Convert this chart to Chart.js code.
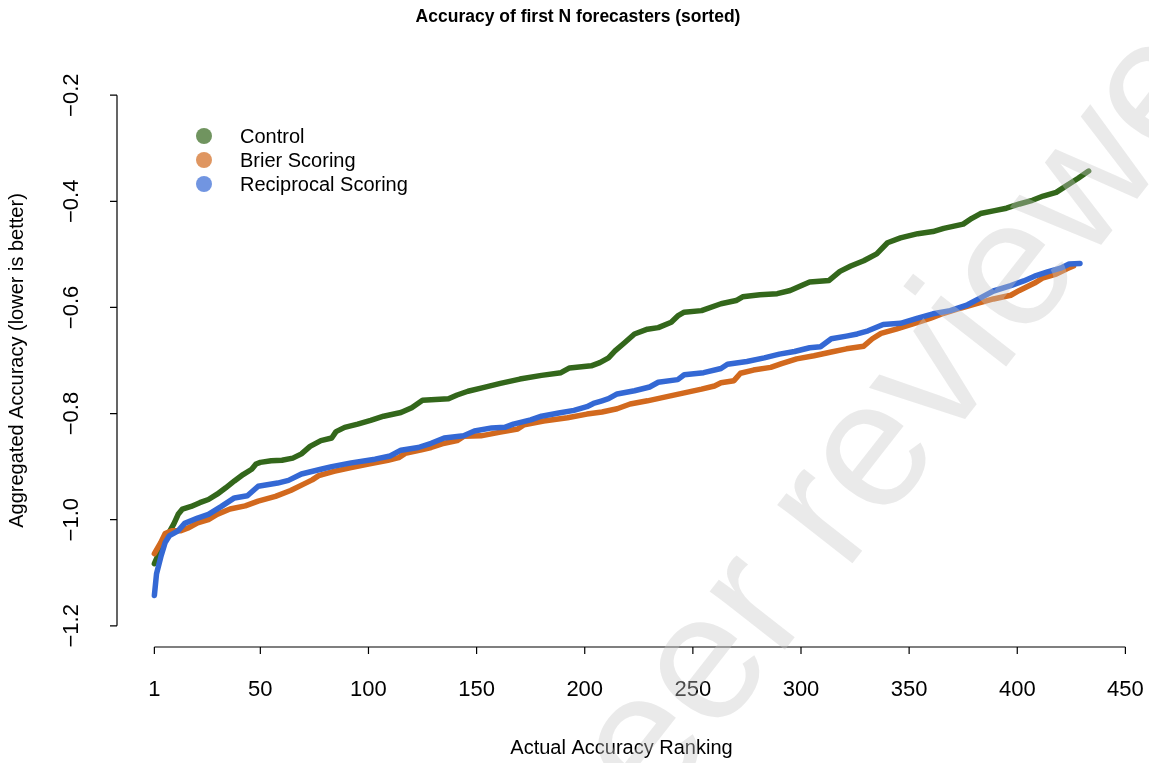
<!DOCTYPE html>
<html>
<head>
<meta charset="utf-8">
<title>Accuracy of first N forecasters (sorted)</title>
<script src="https://cdn.jsdelivr.net/npm/chart.js@4/dist/chart.umd.min.js"></script>
<style>
  html, body { margin: 0; padding: 0; background: #fff; }
  #grafico { display: block; }
</style>
</head>
<body>
<canvas id="grafico" width="1149" height="763"></canvas>
<script>
// Ranking positions and cumulative accuracy for each scoring group
const rankControl = [1, 4, 7, 10, 12, 14, 18, 22, 26, 30, 34, 38, 42, 46, 48, 50, 55, 60, 65, 69, 73, 78, 83, 85, 89, 95, 101, 107, 115, 120, 125, 137, 141, 146, 153, 161, 170, 180, 189, 193, 203, 207, 211, 214, 218, 223, 229, 234, 240, 243, 246, 254, 263, 270, 273, 281, 289, 295, 300, 304, 313, 318, 323, 329, 335, 340, 346, 354, 361, 366, 375, 379, 383, 389, 395, 401, 407, 412, 418, 423, 428, 433];
const accControl = [-1.083, -1.055, -1.030, -1.008, -0.990, -0.980, -0.975, -0.968, -0.962, -0.952, -0.940, -0.927, -0.915, -0.905, -0.895, -0.892, -0.889, -0.888, -0.884, -0.876, -0.862, -0.851, -0.846, -0.834, -0.826, -0.820, -0.813, -0.805, -0.798, -0.789, -0.775, -0.772, -0.765, -0.758, -0.751, -0.743, -0.735, -0.728, -0.723, -0.714, -0.710, -0.704, -0.695, -0.682, -0.668, -0.650, -0.641, -0.638, -0.628, -0.616, -0.609, -0.606, -0.593, -0.587, -0.580, -0.576, -0.574, -0.568, -0.559, -0.552, -0.549, -0.532, -0.522, -0.512, -0.499, -0.478, -0.469, -0.461, -0.457, -0.451, -0.443, -0.432, -0.423, -0.418, -0.413, -0.405, -0.398, -0.390, -0.383, -0.370, -0.357, -0.343];

const rankBrier = [1, 4, 6, 9, 13, 17, 21, 26, 30, 36, 43, 49, 57, 64, 70, 74, 77, 84, 92, 100, 109, 114, 117, 124, 129, 134, 141, 144, 152, 161, 169, 172, 181, 192, 201, 208, 215, 221, 229, 238, 246, 254, 260, 263, 269, 272, 278, 286, 291, 298, 306, 314, 321, 329, 333, 337, 344, 354, 360, 366, 374, 382, 389, 397, 401, 408, 412, 418, 423, 426];
const accBrier = [-1.064, -1.043, -1.026, -1.021, -1.021, -1.015, -1.006, -1.000, -0.990, -0.980, -0.974, -0.965, -0.956, -0.945, -0.933, -0.925, -0.917, -0.909, -0.902, -0.895, -0.888, -0.883, -0.875, -0.869, -0.864, -0.857, -0.851, -0.843, -0.842, -0.835, -0.829, -0.821, -0.814, -0.808, -0.801, -0.797, -0.791, -0.782, -0.776, -0.768, -0.761, -0.754, -0.748, -0.742, -0.738, -0.724, -0.718, -0.713, -0.706, -0.697, -0.691, -0.684, -0.678, -0.673, -0.659, -0.649, -0.641, -0.628, -0.620, -0.611, -0.601, -0.592, -0.584, -0.577, -0.568, -0.554, -0.544, -0.537, -0.527, -0.522];

const rankRecip = [1, 2, 4, 6, 8, 12, 15, 21, 26, 32, 38, 44, 49, 58, 63, 69, 78, 83, 92, 103, 110, 115, 123, 129, 135, 144, 149, 157, 163, 167, 175, 180, 188, 195, 201, 204, 208, 211, 215, 223, 230, 234, 243, 246, 255, 263, 266, 275, 283, 290, 297, 304, 309, 314, 321, 326, 331, 338, 346, 354, 361, 369, 377, 383, 389, 397, 403, 408, 414, 420, 424, 429];
const accRecip = [-1.143, -1.102, -1.070, -1.043, -1.030, -1.021, -1.007, -0.997, -0.990, -0.975, -0.959, -0.955, -0.937, -0.931, -0.926, -0.914, -0.905, -0.900, -0.893, -0.886, -0.880, -0.869, -0.864, -0.856, -0.846, -0.842, -0.833, -0.827, -0.826, -0.820, -0.812, -0.805, -0.799, -0.794, -0.787, -0.781, -0.776, -0.772, -0.763, -0.757, -0.750, -0.741, -0.736, -0.727, -0.723, -0.715, -0.707, -0.702, -0.695, -0.688, -0.683, -0.676, -0.674, -0.659, -0.654, -0.650, -0.644, -0.632, -0.630, -0.620, -0.612, -0.606, -0.595, -0.582, -0.569, -0.559, -0.550, -0.541, -0.533, -0.526, -0.518, -0.517];

const seriesNames = ["Control", "Brier Scoring", "Reciprocal Scoring"];
const xTicks = [1, 50, 100, 150, 200, 250, 300, 350, 400, 450];
const yTicks = [-1.2, -1.0, -0.8, -0.6, -0.4, -0.2];
const yTickLabels = ["\u22121.2", "\u22121.0", "\u22120.8", "\u22120.6", "\u22120.4", "\u22120.2"];

const lineColors = ["rgb(51,103,27)", "rgb(210,105,30)", "rgb(52,104,212)"];
const dotColors = ["rgba(51,103,27,0.7)", "rgba(210,105,30,0.7)", "rgba(52,104,212,0.7)"];

const FONT = "'Liberation Sans', Arial, Helvetica, sans-serif";

function puntos(xs, ys) {
    return xs.map(function(x, i) { return { x: x, y: ys[i] }; });
}

// Axes, legend, title and watermark drawn in base-graphics style
const estiloR = {
    id: "estiloR",
    afterDraw(chart) {
        const ctx = chart.ctx;
        const xs = chart.scales.x;
        const ys = chart.scales.y;
        const area = chart.chartArea;

        ctx.save();
        ctx.strokeStyle = "#000";
        ctx.fillStyle = "#000";
        ctx.lineWidth = 1.2;

        // x axis: line spans first to last tick
        const xb = area.bottom;
        ctx.beginPath();
        ctx.moveTo(xs.getPixelForValue(xTicks[0]), xb);
        ctx.lineTo(xs.getPixelForValue(xTicks[xTicks.length - 1]), xb);
        xTicks.forEach(function(t) {
            const px = xs.getPixelForValue(t);
            ctx.moveTo(px, xb);
            ctx.lineTo(px, xb + 7);
        });
        ctx.stroke();

        ctx.font = "22px " + FONT;
        ctx.textAlign = "center";
        ctx.textBaseline = "middle";
        xTicks.forEach(function(t) {
            ctx.fillText(String(t), xs.getPixelForValue(t), 690);
        });

        // y axis
        const yl = area.left;
        ctx.beginPath();
        ctx.moveTo(yl, ys.getPixelForValue(yTicks[0]));
        ctx.lineTo(yl, ys.getPixelForValue(yTicks[yTicks.length - 1]));
        yTicks.forEach(function(t) {
            const py = ys.getPixelForValue(t);
            ctx.moveTo(yl, py);
            ctx.lineTo(yl - 7, py);
        });
        ctx.stroke();

        yTicks.forEach(function(t, i) {
            ctx.save();
            ctx.translate(72, ys.getPixelForValue(t));
            ctx.rotate(-Math.PI / 2);
            ctx.fillText(yTickLabels[i], 0, 0);
            ctx.restore();
        });

        // axis titles
        ctx.font = "20px " + FONT;
        ctx.fillText("Actual Accuracy Ranking", (area.left + area.right) / 2, 748);
        ctx.save();
        ctx.translate(17, (area.top + area.bottom) / 2);
        ctx.rotate(-Math.PI / 2);
        ctx.fillText("Aggregated Accuracy (lower is better)", 0, 0);
        ctx.restore();

        // main title
        ctx.font = "bold 17.5px " + FONT;
        ctx.fillText("Accuracy of first N forecasters (sorted)", 578, 17);

        // legend
        ctx.font = "20px " + FONT;
        ctx.textAlign = "left";
        seriesNames.forEach(function(nombre, i) {
            const cy = 136 + i * 24;
            ctx.fillStyle = dotColors[i];
            ctx.beginPath();
            ctx.arc(204, cy, 8, 0, Math.PI * 2);
            ctx.fill();
            ctx.fillStyle = "#000";
            ctx.fillText(nombre, 240, cy + 1);
        });

        // watermark over everything
        ctx.save();
        ctx.translate(580, 912);
        ctx.rotate(-52 * Math.PI / 180);
        ctx.font = "180px " + FONT;
        ctx.textAlign = "left";
        ctx.textBaseline = "alphabetic";
        ctx.fillStyle = "rgba(200,200,200,0.38)";
        ctx.fillText("Peer reviewed", 0, 0);
        ctx.restore();

        ctx.restore();
    }
};

const ctx = document.getElementById("grafico").getContext("2d");

new Chart(ctx, {
    type: "line",
    data: {
        datasets: [
            { label: seriesNames[0], data: puntos(rankControl, accControl), borderColor: lineColors[0], order: 3 },
            { label: seriesNames[1], data: puntos(rankBrier, accBrier), borderColor: lineColors[1], order: 2 },
            { label: seriesNames[2], data: puntos(rankRecip, accRecip), borderColor: lineColors[2], order: 1 }
        ]
    },
    options: {
        responsive: false,
        animation: false,
        layout: { padding: { left: 117, right: 23, top: 74, bottom: 116 } },
        elements: {
            line: { borderWidth: 5.5, tension: 0, borderCapStyle: "round", borderJoinStyle: "round", fill: false },
            point: { radius: 0, hoverRadius: 0 }
        },
        scales: {
            x: { type: "linear", min: -16.28, max: 450.28, display: false },
            y: { type: "linear", min: -1.24, max: -0.16, display: false }
        },
        plugins: {
            legend: { display: false },
            title: { display: false },
            tooltip: { enabled: false }
        }
    },
    plugins: [estiloR]
});
</script>
</body>
</html>
